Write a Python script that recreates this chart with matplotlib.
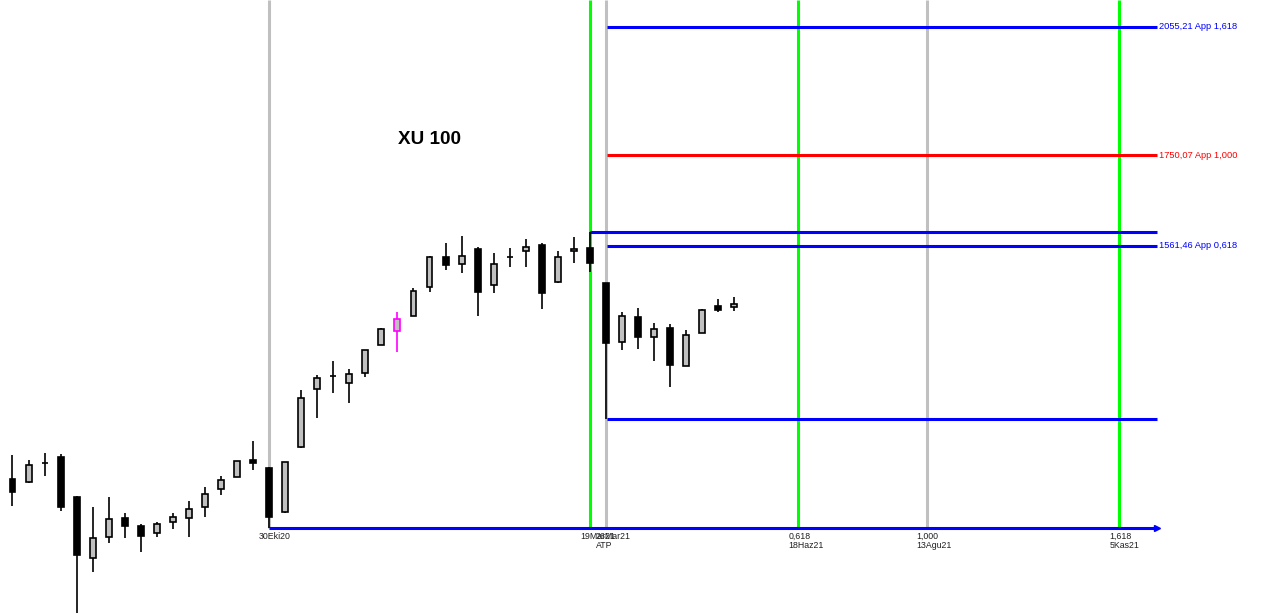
import matplotlib
matplotlib.use("Agg")
import matplotlib.pyplot as plt
from matplotlib.patches import Rectangle

# weekly XU 100 candles, 10Tem20 .. 21May21
opens = [1165.6, 1161.2, 1189.0, 1198.2, 1139.6, 1055.6, 1083.8, 1109.9, 1098.9, 1089.3,
         1104.4, 1109.9, 1125.4, 1151.1, 1168.5, 1193.7, 1181.8, 1118.3, 1213.4, 1304.9,
         1326.4, 1314.8, 1331.4, 1379.0, 1403.5, 1430.1, 1483.1, 1540.0, 1526.6, 1555.6,
         1486.9, 1540.0, 1551.7, 1563.4, 1492.5, 1551.7, 1557.5, 1490.6, 1384.2, 1428.3,
         1393.0, 1408.8, 1343.2, 1400.0, 1448.2, 1446.4]
highs = [1201.2, 1193.7, 1204.3, 1202.8, 1141.0, 1125.4, 1139.6, 1116.9, 1101.6, 1104.4,
         1116.9, 1133.9, 1154.0, 1170.0, 1192.2, 1222.5, 1183.0, 1190.7, 1303.3, 1328.1,
         1351.6, 1338.1, 1370.4, 1408.8, 1437.3, 1481.3, 1542.0, 1567.3, 1581.1, 1559.5,
         1547.8, 1557.5, 1575.2, 1567.3, 1551.7, 1579.2, 1589.85, 1491.0, 1437.3, 1444.6,
         1417.6, 1415.9, 1405.2, 1442.8, 1461.0, 1464.6]
lows = [1126.8, 1159.8, 1170.0, 1119.7, 985.2, 1037.2, 1075.7, 1082.4, 1063.6, 1083.8,
        1094.7, 1083.8, 1111.3, 1142.5, 1168.5, 1178.8, 1096.11, 1117.0, 1211.8, 1258.3,
        1298.4, 1282.2, 1324.8, 1379.0, 1367.0, 1430.1, 1473.9, 1515.1, 1509.4, 1430.1,
        1472.0, 1520.8, 1520.8, 1442.8, 1490.0, 1528.5, 1511.3, 1256.33, 1370.4, 1372.1,
        1351.6, 1308.2, 1343.2, 1400.0, 1437.3, 1439.1]
closes = [1146.8, 1186.3, 1189.6, 1125.4, 1059.6, 1082.4, 1108.6, 1098.9, 1085.2, 1101.6,
          1111.3, 1122.5, 1143.9, 1164.2, 1192.2, 1189.3, 1111.3, 1190.7, 1290.3, 1323.1,
          1326.8, 1329.7, 1370.4, 1407.0, 1424.8, 1475.7, 1540.0, 1524.7, 1542.0, 1473.9,
          1526.6, 1540.5, 1559.5, 1472.0, 1540.0, 1555.6, 1528.5, 1382.5, 1430.1, 1393.0,
          1407.0, 1344.9, 1396.4, 1440.9, 1440.9, 1451.8]
highlight = 24  # magenta candle

# time lines (week index) and their labels
vline_idx = [16, 36, 37, 49, 57, 69]
vline_kind = ['gray', 'green', 'gray', 'green', 'gray', 'green']
vline_text = ['30Eki20', '19Mar21', '26Mar21\nATP', '0,618\n18Haz21', '1,000\n13Agu21', '1,618\n5Kas21']

# price projection
low_a, high_b, low_c = 1096.11, 1589.85, 1256.33
levels = [2055.21, 1750.07, 1561.46]
level_text = ['2055,21 App 1,618', '1750,07 App 1,000', '1561,46 App 0,618']
level_col = ['#0000ff', '#ff0000', '#0000ff']
x_end = 71.35

fig = plt.figure(figsize=(12.61, 6.14), dpi=100)
ax = fig.add_axes([0, 0, 1, 1])
ax.set_yscale('log')
ax.set_xlim(-0.779, 77.84)
ax.set_ylim(984.0, 2126.0)
ax.axis('off')

ymax = 2126.0
cols = {'gray': '#c0c0c0', 'green': '#00ff00'}
for i, k in zip(vline_idx, vline_kind):
    ax.vlines(i, low_a, ymax, color=cols[k], lw=2.2, zorder=1)

# horizontal lines
ax.hlines(low_a, 16, x_end, color='#0000ff', lw=2.2, zorder=2)
ax.plot([x_end], [low_a], marker='>', color='#0000ff', ms=4, zorder=2)
ax.hlines(high_b, 36, x_end, color='#0000ff', lw=2.2, zorder=2)
ax.hlines(low_c, 37.05, x_end, color='#0000ff', lw=2.2, zorder=2)
for p, t, c in zip(levels, level_text, level_col):
    ax.hlines(p, 37.05, x_end, color=c, lw=2.2, zorder=2)
    ax.annotate(t, xy=(x_end, p), xytext=(2, 0), textcoords='offset pixels',
                ha='left', va='center', fontsize=6.7, color=c, family='Liberation Sans')

# candles
w = 0.37
for i in range(len(opens)):
    o, h, l, c = opens[i], highs[i], lows[i], closes[i]
    edge = '#ff00ff' if i == highlight else 'black'
    ax.vlines(i, l, h, color=edge, lw=1.2, zorder=3)
    fill = '#c0c0c0' if c >= o else 'black'
    ax.add_patch(Rectangle((i - w / 2, min(o, c)), w, abs(c - o), facecolor=fill,
                           edgecolor=edge, lw=1.2, zorder=4))

for i, t in zip(vline_idx, vline_text):
    ax.annotate(t, xy=(i, low_a), xytext=(-10, -4), textcoords='offset pixels',
                ha='left', va='top', fontsize=6.3, color='#202020',
                family='Liberation Sans', linespacing=1.05)

ax.text(24.05, 1783.6, 'XU 100', fontsize=13.6, fontweight='bold',
        family='Liberation Sans', ha='left', va='center')

fig.savefig('out.png', dpi=100)
